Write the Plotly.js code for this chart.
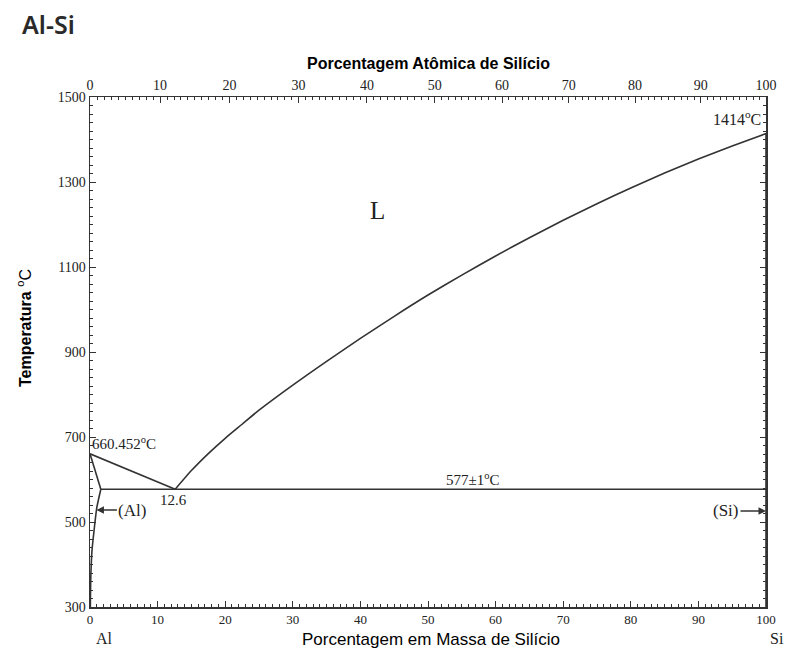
<!DOCTYPE html>
<html>
<head>
<meta charset="utf-8">
<script src="https://cdn.plot.ly/plotly-3.0.1.min.js"></script>
<style>html,body{margin:0;padding:0;background:#fff;}#chart{width:789px;height:650px;}</style>
</head>
<body>
<div id="chart"></div>
<script>
// ---- data ----
const liqAlX = [0, 12.6];
const liqAlT = [660.452, 577];
const liqSiX = [12.6, 15, 17.5, 20, 22.5, 25, 30, 35, 40, 45, 50, 55, 60, 65, 70, 75, 80, 85, 90, 95, 100];
const liqSiT = [577, 621, 661, 697, 730, 763, 822, 878, 932, 984, 1034, 1081, 1126, 1169, 1210, 1249, 1286, 1321, 1354, 1385, 1414];
const solidusX = [0, 1.6];
const solidusT = [660.452, 577];
const solvusX = [1.6, 1.0, 0.6, 0.3, 0.12, 0.05];
const solvusT = [577, 533, 480, 434, 371, 300];
const eutecticX = [1.6, 100];
const eutecticT = [577, 577];
const siX = [100, 100];
const siT = [300, 1414];

const wtTicks = [0, 10, 20, 30, 40, 50, 60, 70, 80, 90, 100];
const atTicks = [0, 10, 20, 30, 40, 50, 60, 70, 80, 90, 100];
const tempTicks = [300, 500, 700, 900, 1100, 1300, 1500];

// atomic % -> weight % conversion (Al 26.982, Si 28.086)
const M_AL = 26.982, M_SI = 28.086;
function atToWt(a) { return a * M_SI / (a * M_SI + (100 - a) * M_AL) * 100; }
const atMinor = [];
for (let a = 0; a <= 100; a++) { if (a % 10 !== 0) atMinor.push(atToWt(a)); }

const lc = '#333';
const lineStyle = {color: lc, width: 1.6};
function tr(x, y, shape) {
  return {x: x, y: y, type: 'scatter', mode: 'lines', line: Object.assign({shape: shape || 'linear', smoothing: 0.6}, lineStyle), hoverinfo: 'skip', showlegend: false};
}

const traces = [
  tr(liqAlX, liqAlT),
  tr(liqSiX, liqSiT, 'spline'),
  tr(solidusX, solidusT),
  tr(solvusX, solvusT, 'spline'),
  tr(eutecticX, eutecticT),
  tr(siX, siT),
  {x: [0, 100], y: [300, 300], xaxis: 'x2', type: 'scatter', mode: 'lines', line: {width: 0}, opacity: 0, hoverinfo: 'skip', showlegend: false}
];

const serif = 'Liberation Serif, DejaVu Serif, serif';
const sans = 'Liberation Sans, Arial, sans-serif';
const tickFont = {family: serif, size: 14, color: '#222'};

const layout = {
  width: 789, height: 650,
  margin: {l: 90, r: 23, t: 97, b: 43},
  paper_bgcolor: '#fff', plot_bgcolor: '#fff',
  title: {text: 'Al-Si', font: {family: 'Noto Sans, sans-serif', size: 25, color: '#2a2a2a', weight: 600},
          xref: 'container', yref: 'container', x: 22/789, xanchor: 'left', y: 1 - 25/650, yanchor: 'middle'},
  xaxis: {
    range: [0, 100], tickmode: 'array', tickvals: wtTicks, ticktext: wtTicks.map(String),
    showgrid: false, zeroline: false, showline: true, linecolor: lc, linewidth: 1.5, mirror: true,
    ticks: 'inside', ticklen: 6, tickwidth: 1, tickcolor: lc, tickfont: {family: serif, size: 13, color: '#222'},
    minor: {dtick: 1, ticks: 'inside', ticklen: 3, tickcolor: lc, tickwidth: 1, showgrid: false}
  },
  xaxis2: {
    range: [0, 100], overlaying: 'x', side: 'top', anchor: 'y', tickmode: 'array',
    tickvals: atTicks.map(atToWt), ticktext: atTicks.map(String),
    showgrid: false, zeroline: false, showline: true, linecolor: lc, linewidth: 1.5,
    ticks: 'inside', ticklen: 6, tickwidth: 1, tickcolor: lc, tickfont: tickFont,
    minor: {tickmode: 'array', tickvals: atMinor, ticks: 'inside', ticklen: 3, tickcolor: lc, tickwidth: 1, showgrid: false}
  },
  yaxis: {
    range: [300, 1500], tickmode: 'array', tickvals: tempTicks, ticktext: tempTicks.map(String),
    showgrid: false, zeroline: false, showline: true, linecolor: lc, linewidth: 1.5, mirror: 'ticks',
    ticks: 'inside', ticklen: 6, tickwidth: 1, tickcolor: lc, tickfont: tickFont,
    minor: {dtick: 20, ticks: 'inside', ticklen: 3, tickcolor: lc, tickwidth: 1, showgrid: false}
  },
  annotations: [
    {xref: 'paper', yref: 'paper', x: 0.5, y: 1, yshift: 34, yanchor: 'middle', xanchor: 'center', showarrow: false,
     text: '<b>Porcentagem Atômica de Silício</b>', font: {family: sans, size: 16, color: '#000'}},
    {xref: 'paper', yref: 'paper', x: 0.5, xshift: 3, y: 0, yshift: -32, yanchor: 'middle', xanchor: 'center', showarrow: false,
     text: 'Porcentagem em Massa de Silício', font: {family: sans, size: 17, color: '#000'}},
    {xref: 'paper', yref: 'paper', x: 0, xshift: -66, y: 0.5, yshift: 24, xanchor: 'center', yanchor: 'middle', textangle: -90, showarrow: false,
     text: '<b>Temperatura</b> <sup>o</sup>C', font: {family: sans, size: 16, color: '#000'}},
    {x: 0, y: 660.452, xanchor: 'left', yanchor: 'bottom', xshift: 0, yshift: 0, showarrow: false,
     text: '660.452<sup>o</sup>C', font: {family: serif, size: 15, color: '#222'}},
    {x: 12.6, y: 577, xanchor: 'center', yanchor: 'top', xshift: -2, yshift: -1, showarrow: false,
     text: '12.6', font: {family: serif, size: 15, color: '#222'}},
    {x: 56.7, y: 577, xanchor: 'center', yanchor: 'bottom', yshift: -1, showarrow: false,
     text: '577±1<sup>o</sup>C', font: {family: serif, size: 15, color: '#222'}},
    {x: 100, y: 1414, xanchor: 'right', yanchor: 'bottom', xshift: -3, yshift: 4, showarrow: false,
     text: '1414<sup>o</sup>C', font: {family: serif, size: 16, color: '#222'}},
    {x: 42.6, y: 1234, xanchor: 'center', yanchor: 'middle', showarrow: false,
     text: 'L', font: {family: serif, size: 25, color: '#222'}},
    {x: 0.95, y: 528, ax: 36, ay: 0, showarrow: true, arrowhead: 2, arrowsize: 1, arrowwidth: 1.5, arrowcolor: lc,
     text: '(Al)', font: {family: serif, size: 17, color: '#222'}},
    {x: 100, y: 526, ax: -40, ay: 0, showarrow: true, arrowhead: 2, arrowsize: 1, arrowwidth: 1.5, arrowcolor: lc,
     text: '(Si)', font: {family: serif, size: 17, color: '#222'}},
    {x: 0, y: 300, xanchor: 'left', yanchor: 'middle', xshift: 4, yshift: -31, showarrow: false,
     text: 'Al', font: {family: serif, size: 16, color: '#222'}},
    {x: 100, y: 300, xanchor: 'center', yanchor: 'middle', xshift: 11, yshift: -31, showarrow: false,
     text: 'Si', font: {family: serif, size: 16, color: '#222'}}
  ]
};

Plotly.newPlot('chart', traces, layout, {displayModeBar: false, staticPlot: true});
</script>
</body>
</html>
